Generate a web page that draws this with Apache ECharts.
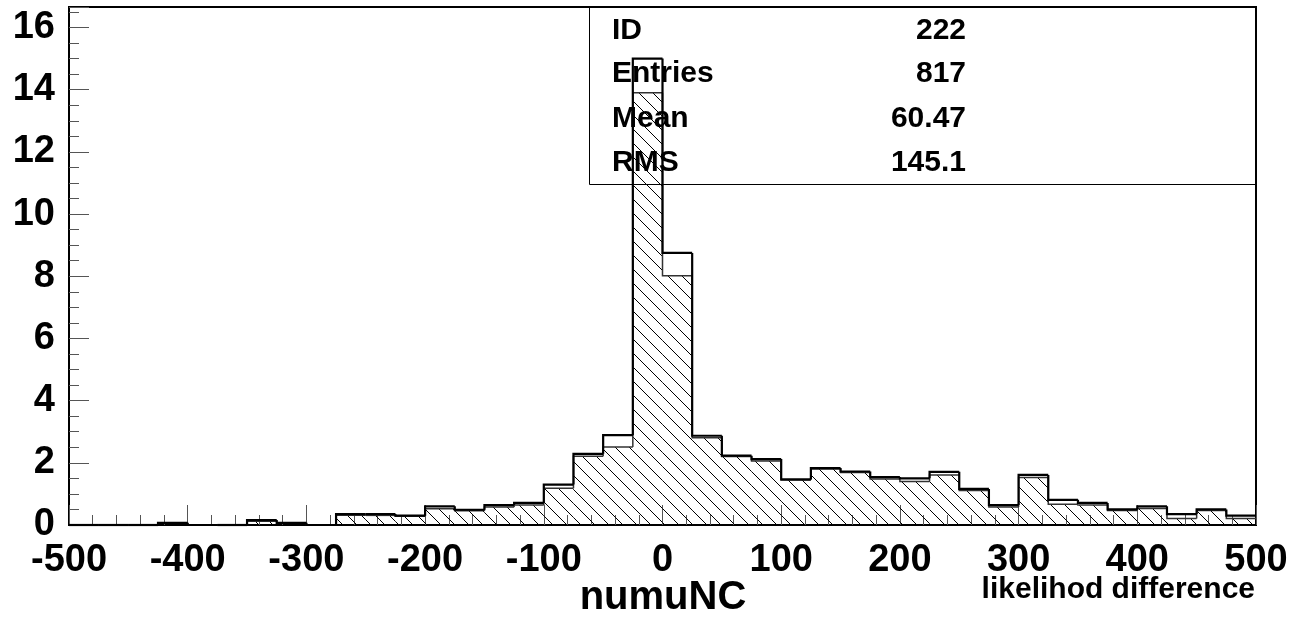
<!DOCTYPE html>
<html>
<head>
<meta charset="utf-8">
<script src="https://cdn.jsdelivr.net/npm/echarts@6.0.0/dist/echarts.min.js"></script>
<style>
  html, body { margin: 0; padding: 0; background: #fff; }
  #chart { width: 1304px; height: 621px; }
</style>
</head>
<body>
<div id="chart"></div>
<script>
// ---- data ----
const binEdges = [-500,-475,-450,-425,-400,-375,-350,-325,-300,-275,-250,-225,-200,-175,-150,-125,-100,-75,-50,-25,
                  0,25,50,75,100,125,150,175,200,225,250,275,300,325,350,375,400,425,450,475,500];
const totalCounts = [0,0,0,0.07,0,0,0.16,0.07,0,0.35,
                     0.35,0.30,0.60,0.49,0.64,0.71,1.30,2.29,2.89,15.0,
                     8.75,2.87,2.23,2.12,1.47,1.83,1.72,1.54,1.50,1.71,
                     1.16,0.64,1.61,0.81,0.71,0.50,0.60,0.35,0.50,0.30];
const hatchedCounts = [0,0,0,0.06,0,0,0.12,0.06,0,0.31,
                       0.31,0.28,0.52,0.46,0.58,0.64,1.18,2.21,2.51,13.9,
                       8.02,2.81,2.20,2.06,1.45,1.80,1.69,1.48,1.40,1.61,
                       1.11,0.58,1.53,0.67,0.64,0.47,0.53,0.21,0.47,0.21];
const xTickLabels = ['-500','-400','-300','-200','-100','0','100','200','300','400','500'];
const statsNames = ['ID','Entries','Mean','RMS'];
const statsValues = ['222','817','60.47','145.1'];
const xTitle = 'numuNC';
const xSubTitle = 'likelihod difference';

// ---- hatch pattern ----
const tile = document.createElement('canvas');
tile.width = 14; tile.height = 14;
const tctx = tile.getContext('2d');
tctx.strokeStyle = '#000';
tctx.lineWidth = 1;
[-14, 0, 14].forEach(function (o) {
  tctx.beginPath();
  tctx.moveTo(o - 1, -1);
  tctx.lineTo(o + 15, 15);
  tctx.stroke();
});
const hatch = { type: 'pattern', image: tile, repeat: 'repeat' };

const FONT = '"Liberation Sans", Arial, Helvetica, sans-serif';

function histData(counts) {
  return counts.map(function (v, i) { return [binEdges[i], binEdges[i + 1], v, i > 0 ? counts[i - 1] : 0]; });
}

function makeRender(fillPattern, strokeColor, strokeWidth) {
  return function (params, api) {
    const x0 = api.value(0), x1 = api.value(1), v = api.value(2), prev = api.value(3);
    const pTop0 = api.coord([x0, v]);
    const pTop1 = api.coord([x1, v]);
    const pBase1 = api.coord([x1, 0]);
    const pPrev = api.coord([x0, prev]);
    const children = [];
    if (fillPattern) {
      children.push({ type: 'rect', shape: { x: pTop0[0], y: pTop0[1], width: pBase1[0] - pTop0[0], height: pBase1[1] - pTop0[1] },
        style: { fill: fillPattern, stroke: null } });
    }
    children.push({ type: 'polyline', shape: { points: [pPrev, pTop0, pTop1] },
      style: { fill: null, stroke: strokeColor, lineWidth: strokeWidth } });
    return { type: 'group', children: children };
  };
}

const chart = echarts.init(document.getElementById('chart'), null, { renderer: 'canvas' });

const rowY = [31, 74, 119, 163];
const graphics = [
  { type: 'rect', z: 0, shape: { x: 589.5, y: 7, width: 667, height: 177.5 },
    style: { fill: 'none', stroke: '#000', lineWidth: 1 } },
  { type: 'text', z: 10, style: { text: xTitle, x: 663, y: 598, fill: '#000',
    font: 'bold 40px ' + FONT, align: 'center', verticalAlign: 'middle' } },
  { type: 'text', z: 10, style: { text: xSubTitle, x: 1255, y: 590, fill: '#000',
    font: 'bold 30px ' + FONT, align: 'right', verticalAlign: 'middle' } }
];
statsNames.forEach(function (n, i) {
  graphics.push({ type: 'text', z: 10, style: { text: n, x: 612, y: rowY[i], fill: '#000',
    font: 'bold 30px ' + FONT, align: 'left', verticalAlign: 'middle' } });
  graphics.push({ type: 'text', z: 10, style: { text: statsValues[i], x: 966, y: rowY[i], fill: '#000',
    font: 'bold 30px ' + FONT, align: 'right', verticalAlign: 'middle' } });
});

chart.setOption({
  animation: false,
  backgroundColor: '#fff',
  grid: { left: 69, right: 48, top: 7, bottom: 96, show: true, borderColor: '#000', borderWidth: 2, containLabel: false },
  xAxis: {
    type: 'value', min: -500, max: 500, interval: 100,
    axisLine: { show: true, onZero: false, lineStyle: { color: '#000', width: 2 } },
    axisTick: { show: true, inside: true, length: 20, lineStyle: { color: '#555', width: 1 } },
    minorTick: { show: true, splitNumber: 5, length: 10, lineStyle: { color: '#555', width: 1 } },
    splitLine: { show: false },
    axisLabel: {
      margin: 17, color: '#000', fontSize: 38, fontWeight: 'bold', fontFamily: FONT,
      formatter: function (v) { const i = Math.round((v + 500) / 100); return xTickLabels[i] !== undefined ? xTickLabels[i] : ''; }
    }
  },
  yAxis: {
    type: 'value', min: 0, max: 16.66, interval: 2,
    axisLine: { show: true, onZero: false, lineStyle: { color: '#000', width: 2 } },
    axisTick: { show: true, inside: true, length: 20, lineStyle: { color: '#555', width: 1 } },
    minorTick: { show: true, splitNumber: 4, length: 10, lineStyle: { color: '#555', width: 1 } },
    splitLine: { show: false },
    axisLabel: {
      margin: 14, color: '#000', fontSize: 38, fontWeight: 'bold', fontFamily: FONT,
      showMaxLabel: false,
      formatter: function (v) { return Math.abs(v - Math.round(v)) < 1e-6 ? String(Math.round(v)) : ''; }
    }
  },
  graphic: graphics,
  series: [
    {
      type: 'custom', z: 2, data: histData(hatchedCounts),
      renderItem: makeRender(hatch, '#333', 1.5),
      encode: { x: [0, 1], y: 2 }
    },
    {
      type: 'custom', z: 3, data: histData(totalCounts),
      renderItem: makeRender(null, '#000', 2.2),
      encode: { x: [0, 1], y: 2 }
    }
  ]
});
</script>
</body>
</html>
